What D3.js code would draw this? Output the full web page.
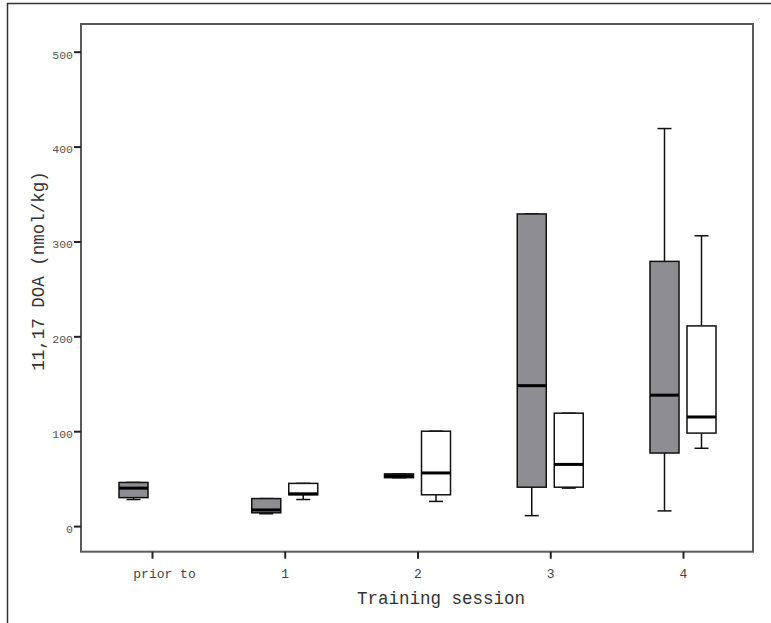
<!DOCTYPE html>
<html>
<head>
<meta charset="utf-8">
<script src="https://cdn.jsdelivr.net/npm/d3@7"></script>
<style>
  body { margin: 0; background: #fff; }
  text { font-family: 'Liberation Mono', 'DejaVu Sans Mono', monospace; }
</style>
</head>
<body>
<svg id="chart" width="771" height="623"></svg>
<script>
// sessions on the x axis
const sessions = ['prior to', '1', '2', '3', '4'];
const yTicks = [0, 100, 200, 300, 400, 500];

// grey (filled) boxes: [min, q1, median, q3, max]
const greyMin = [28, 13, 51, 11, 16];
const greyQ1 = [30, 14, 51, 41, 77];
const greyMed = [40, 17, 53, 148, 138];
const greyQ3 = [46, 29, 55, 329, 279];
const greyMax = [46, 29, 55, 329, 419];

// white (open) boxes, none before training
const whiteMin = [null, 28, 26, 40, 82];
const whiteQ1 = [null, 33, 33, 41, 98];
const whiteMed = [null, 34, 56, 65, 115];
const whiteQ3 = [null, 45, 100, 119, 211];
const whiteMax = [null, 45, 100, 119, 306];

const svg = d3.select('#chart');

const plot = { left: 81, right: 753, top: 24, bottom: 551.7 };

// outer frame (only top and left edges show)
svg.append('path')
  .attr('d', `M7.5,623 L7.5,3.5 L771,3.5`)
  .attr('fill', 'none')
  .attr('stroke', '#333')
  .attr('stroke-width', 1.5);

const x = d3.scalePoint()
  .domain(sessions)
  .range([152, 683]);

const y = d3.scaleLinear()
  .domain([-27, 529.2])
  .range([plot.bottom, plot.top]);

// plot frame
svg.append('rect')
  .attr('x', plot.left)
  .attr('y', plot.top)
  .attr('width', plot.right - plot.left)
  .attr('height', plot.bottom - plot.top)
  .attr('fill', 'none')
  .attr('stroke', '#5a5a5a')
  .attr('stroke-width', 2);

// y axis
const yAxis = svg.append('g')
  .attr('transform', `translate(${plot.left},0)`)
  .call(d3.axisLeft(y).tickValues(yTicks).tickSize(7).tickPadding(1));
yAxis.select('.domain').remove();
yAxis.selectAll('.tick line').attr('stroke', '#222').attr('stroke-width', 2);
yAxis.selectAll('.tick text')
  .attr('fill', '#555')
  .attr('dy', '0.55em')
  .style('font-size', '11.5px');

// x axis
const xAxis = svg.append('g')
  .attr('transform', `translate(0,${plot.bottom})`)
  .call(d3.axisBottom(x).tickSize(7).tickPadding(10));
xAxis.select('.domain').remove();
xAxis.selectAll('.tick line').attr('stroke', '#222').attr('stroke-width', 2);
xAxis.selectAll('.tick text')
  .attr('fill', '#444')
  .style('font-size', '13px')
  .attr('dx', (d) => (d === 'prior to' ? 12 : 0));

// build the box table from the arrays
const boxes = [];
sessions.forEach((s, i) => {
  boxes.push({ s, off: -1, fill: '#8e8e92',
    min: greyMin[i], q1: greyQ1[i], med: greyMed[i], q3: greyQ3[i], max: greyMax[i] });
  if (whiteMed[i] != null) {
    boxes.push({ s, off: 1, fill: '#fff',
      min: whiteMin[i], q1: whiteQ1[i], med: whiteMed[i], q3: whiteQ3[i], max: whiteMax[i] });
  }
});

const boxW = 29;
const gap = 4;
const capW = 14;
const boxX = (d) => (d.off < 0 ? x(d.s) - gap - boxW : x(d.s) + gap);
const boxC = (d) => boxX(d) + boxW / 2;

const g = svg.append('g').attr('class', 'boxes');

const box = g.selectAll('g.box')
  .data(boxes)
  .join('g')
  .attr('class', 'box');

// whiskers
box.append('line')
  .attr('x1', boxC).attr('x2', boxC)
  .attr('y1', (d) => y(d.max)).attr('y2', (d) => y(d.q3))
  .attr('stroke', '#111').attr('stroke-width', 1.5);
box.append('line')
  .attr('x1', boxC).attr('x2', boxC)
  .attr('y1', (d) => y(d.q1)).attr('y2', (d) => y(d.min))
  .attr('stroke', '#111').attr('stroke-width', 1.5);
box.append('line')
  .attr('x1', (d) => boxC(d) - capW / 2).attr('x2', (d) => boxC(d) + capW / 2)
  .attr('y1', (d) => y(d.max)).attr('y2', (d) => y(d.max))
  .attr('stroke', '#111').attr('stroke-width', 1.5);
box.append('line')
  .attr('x1', (d) => boxC(d) - capW / 2).attr('x2', (d) => boxC(d) + capW / 2)
  .attr('y1', (d) => y(d.min)).attr('y2', (d) => y(d.min))
  .attr('stroke', '#111').attr('stroke-width', 1.5);

// boxes
box.append('rect')
  .attr('x', boxX)
  .attr('width', boxW)
  .attr('y', (d) => y(d.q3))
  .attr('height', (d) => Math.max(1, y(d.q1) - y(d.q3)))
  .attr('fill', (d) => d.fill)
  .attr('stroke', '#111')
  .attr('stroke-width', 1.5);

// medians
box.append('line')
  .attr('x1', boxX).attr('x2', (d) => boxX(d) + boxW)
  .attr('y1', (d) => y(d.med)).attr('y2', (d) => y(d.med))
  .attr('stroke', '#000').attr('stroke-width', 3);

// axis titles
svg.append('text')
  .attr('x', 441)
  .attr('y', 604)
  .attr('text-anchor', 'middle')
  .attr('fill', '#333')
  .style('font-size', '17.5px')
  .text('Training session');

svg.append('text')
  .attr('transform', 'translate(44,271) rotate(-90)')
  .attr('text-anchor', 'middle')
  .attr('fill', '#333')
  .style('font-size', '17.5px')
  .text('11,17 DOA (nmol/kg)');
</script>
</body>
</html>
